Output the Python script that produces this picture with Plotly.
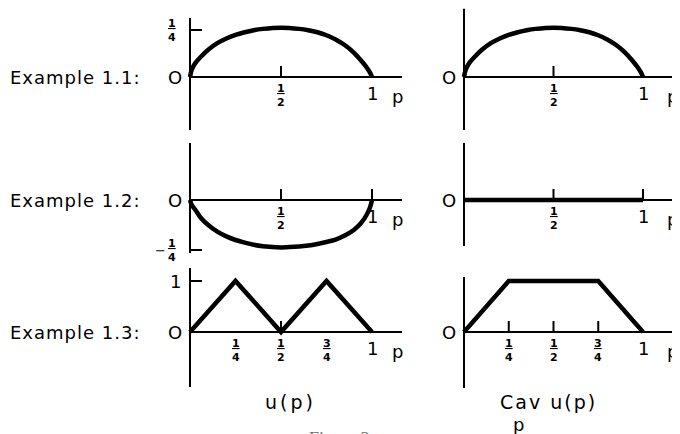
import plotly.graph_objects as go

# values
p_arc = [0, 0.01, 0.03, 0.06, 0.1, 0.15, 0.2, 0.25, 0.3, 0.35, 0.4, 0.5,
         0.6, 0.65, 0.7, 0.75, 0.8, 0.85, 0.9, 0.94, 0.97, 0.99, 1]
u_ex11 = [0, 0.04, 0.075, 0.108, 0.145, 0.18, 0.205, 0.224, 0.238, 0.249, 0.256, 0.262,
          0.256, 0.249, 0.238, 0.222, 0.2, 0.17, 0.13, 0.088, 0.052, 0.022, 0]
cav_ex11 = u_ex11  # concave already, so Cav u = u
u_ex12 = [0, -0.025, -0.05, -0.09, -0.125, -0.158, -0.182, -0.2, -0.213, -0.224, -0.231, -0.237,
          -0.233, -0.228, -0.22, -0.21, -0.198, -0.178, -0.15, -0.115, -0.075, -0.035, 0]
p_flat = [0, 1]
cav_ex12 = [0, 0]
p_kinks = [0, 0.25, 0.5, 0.75, 1]
u_ex13 = [0, 1, 0, 1, 0]
p_cav13 = [0, 0.25, 0.75, 1]
cav_ex13 = [0, 1, 1, 0]

row_labels = ['Example 1.1:', 'Example 1.2:', 'Example 1.3:']
col_labels = ['u(p)', 'Cav u(p)']
x_tick_vals = [[0.5, 1], [0.5, 1], [0.25, 0.5, 0.75, 1]]
x_tick_text = [[('1', '2'), '1'], [('1', '2'), '1'], [('1', '4'), ('1', '2'), ('3', '4'), '1']]
y_tick_vals = [0.25, -0.25, 1]
y_tick_text = [('1', '4'), ('-', '1', '4'), '1']

curves = [
    [(p_arc, u_ex11), (p_arc, cav_ex11)],
    [(p_arc, u_ex12), (p_flat, cav_ex12)],
    [(p_kinks, u_ex13), (p_cav13, cav_ex13)],
]

# ---- geometry, in pixels of the 680x434 page (body has an 8px margin) ----
OFF = 8
W, H = 680 - OFF, 434 - OFF
P0 = [190, 464]          # page pixel of p = 0 per column
P1 = [372, 643]          # page pixel of p = 1 per column
XR = (-0.1, 1.2)
ZERO = [77, 200, 332]    # page pixel of u = 0 per row
UNIT = [188, 200, 51]    # pixels per unit of u per row
YR = [(-0.3, 0.365), (-0.3, 0.3), (-1.2, 1.4)]
Y_EXT = [[(-0.282, 0.314), (-0.282, 0.365)],
         [(-0.265, 0.285), (-0.23, 0.285)],
         [(-1.08, 1.255), (-1.1, 1.08)]]
X_END = [1.165, 1.2]
TICK_MARKS = [[[0.5], [0.5]], [[0.5, 1], [0.5, 1]], [[0.5], [0.25, 0.5, 0.75]]]

FONT = 'DejaVu Sans'


def px(x):
    return min(1, max(0, (x - OFF) / W))


def py(y):
    return min(1, max(0, 1 - (y - OFF) / H))


def frac(num, den):
    return '<b><u>%s</u></b><br><b>%s</b>' % (num, den)


def spaced(s, sp=1):
    return '<span style="letter-spacing:%spx">%s</span>' % (sp, s)


fig = go.Figure()
layout = {}
shapes = []
annotations = []
axis_line = dict(color='black', width=2)
big = dict(family=FONT, size=18, color='black')
small = dict(family=FONT, size=11, color='black')

for r in range(3):
    for c in range(2):
        k = r * 2 + c + 1
        sx = '' if k == 1 else str(k)
        xref, yref = 'x' + sx, 'y' + sx
        span = P1[c] - P0[c]
        lo, hi = XR
        if P0[c] + hi * span > 680:
            hi = (680 - P0[c]) / span
        layout['xaxis' + sx] = dict(domain=[px(P0[c] + lo * span), px(P0[c] + hi * span)],
                                    range=[lo, hi], visible=False, anchor=yref)
        top = ZERO[r] - YR[r][1] * UNIT[r]
        bot = ZERO[r] - YR[r][0] * UNIT[r]
        layout['yaxis' + sx] = dict(domain=[py(bot), py(top)], range=list(YR[r]),
                                    visible=False, anchor=xref)

        cx, cy = curves[r][c]
        fig.add_trace(go.Scatter(x=cx, y=cy, mode='lines', xaxis=xref, yaxis=yref,
                                 line=dict(color='black', width=4.5,
                                           shape='spline' if len(cx) > 5 else 'linear'),
                                 showlegend=False, hoverinfo='skip'))

        # axes through the origin
        shapes.append(dict(type='line', xref=xref, yref=yref, x0=0, x1=0,
                           y0=Y_EXT[r][c][0], y1=Y_EXT[r][c][1], line=axis_line))
        shapes.append(dict(type='line', xref=xref, yref=yref, x0=0, x1=min(X_END[c], hi),
                           y0=0, y1=0, line=axis_line))
        for t in TICK_MARKS[r][c]:
            shapes.append(dict(type='line', xref=xref, yref=yref, x0=t, x1=t,
                               ysizemode='pixel', yanchor=0, y0=0, y1=11, line=axis_line))

        # x tick labels
        for v, txt in zip(x_tick_vals[r], x_tick_text[r]):
            if isinstance(txt, tuple):
                annotations.append(dict(x=v, y=0, xref=xref, yref=yref, text=frac(*txt),
                                        showarrow=False, yshift=-18, font=small))
            else:
                annotations.append(dict(x=v, y=0, xref=xref, yref=yref, text=txt,
                                        showarrow=False, yshift=-16, font=big))
        p_pos = (397 - P0[0]) / 182 if c == 0 else (672 - P0[1]) / 179
        annotations.append(dict(x=p_pos, y=0, xref=xref, yref=yref, text='p',
                                showarrow=False, yshift=-19, font=big))
        annotations.append(dict(x=0, y=0, xref=xref, yref=yref, text='O',
                                showarrow=False, xshift=-15, font=big))

        if c == 0:
            v, txt = y_tick_vals[r], y_tick_text[r]
            shapes.append(dict(type='line', xref=xref, yref=yref, y0=v, y1=v,
                               xsizemode='pixel', xanchor=0, x0=0, x1=12, line=axis_line))
            if isinstance(txt, tuple):
                if len(txt) == 3:
                    annotations.append(dict(x=0, y=v, xref=xref, yref=yref, text='\u2212',
                                            showarrow=False, xshift=-30,
                                            font=dict(family=FONT, size=13, color='black')))
                    txt = txt[1:]
                annotations.append(dict(x=0, y=v, xref=xref, yref=yref, text=frac(*txt),
                                        showarrow=False, xshift=-18, font=small))
            else:
                annotations.append(dict(x=0, y=v, xref=xref, yref=yref, text=txt,
                                        showarrow=False, xshift=-15, font=big))
            annotations.append(dict(x=px(8), y=0, xref='paper', yref=yref,
                                    text=spaced(row_labels[r], 1), xanchor='left',
                                    yanchor='middle', showarrow=False, font=big))

# column captions
annotations.append(dict(x=px(263), y=py(402), xref='paper', yref='paper',
                        text=spaced(col_labels[0], 3), showarrow=False,
                        xanchor='left', yanchor='middle',
                        font=dict(family=FONT, size=19, color='black')))
annotations.append(dict(x=px(498), y=py(402), xref='paper', yref='paper',
                        text=spaced(col_labels[1], 2), showarrow=False,
                        xanchor='left', yanchor='middle',
                        font=dict(family=FONT, size=19, color='black')))
annotations.append(dict(x=px(518), y=py(424), xref='paper', yref='paper', text='p',
                        xanchor='center', yanchor='middle', showarrow=False, font=big))
annotations.append(dict(x=px(307), y=py(427), xref='paper', yref='paper', text='Figure 3',
                        xanchor='left', yanchor='top', showarrow=False,
                        font=dict(family='Liberation Serif', size=18, color='#777777')))

fig.update_layout(
    width=W, height=H,
    margin=dict(l=0, r=0, t=0, b=0),
    paper_bgcolor='white', plot_bgcolor='white',
    shapes=shapes, annotations=annotations,
    **layout
)

fig.write_html("out.html")
